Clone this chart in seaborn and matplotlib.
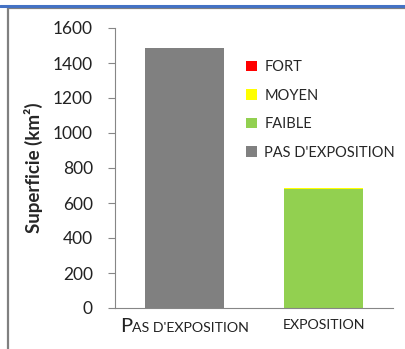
import matplotlib
matplotlib.use("Agg")
import matplotlib.pyplot as plt
import seaborn as sns
from matplotlib.patches import Patch
from matplotlib.lines import Line2D
from matplotlib.offsetbox import TextArea, HPacker, AnnotationBbox

categories = ["PAS D'EXPOSITION", "EXPOSITION"]
pas_exposition = [1486, 0]
faible = [0, 680]
moyen = [0, 6]
fort = [0, 1]

colors = {"FORT": "#FF0000", "MOYEN": "#FFFF00", "FAIBLE": "#92D050",
          "PAS D'EXPOSITION": "#808080"}

sns.set_style("white")
plt.rcParams["font.family"] = ["Lato", "DejaVu Sans"]

fig = plt.figure(figsize=(4.06, 3.49), dpi=100)
ax = fig.add_axes([115 / 406, 1 - 308 / 349, 278 / 406, 280 / 349])

bottom = [0, 0]
for name, vals in [("PAS D'EXPOSITION", pas_exposition), ("FAIBLE", faible),
                   ("MOYEN", moyen), ("FORT", fort)]:
    sns.barplot(x=categories, y=vals, bottom=bottom, color=colors[name],
                width=0.57, saturation=1, ax=ax, linewidth=0)
    bottom = [b + v for b, v in zip(bottom, vals)]

ax.set_xlim(-0.5, 1.5)
ax.set_ylim(0, 1600)
ax.set_yticks(range(0, 1601, 200))
ax.tick_params(axis="y", labelsize=12.5, length=5, width=0.8, color="#868686",
               pad=11, left=True, labelcolor="#222222")
ax.tick_params(axis="x", length=0, pad=8, labelsize=10.2, labelcolor="#222222")
ax.set_xticks([0, 1])
ax.set_xticklabels(["", "EXPOSITION"])

# small-caps style first category label
lbl = HPacker(children=[TextArea("P", textprops=dict(size=14.5, color="#222222")),
                        TextArea("AS D'EXPOSITION", textprops=dict(size=10.2, color="#222222"))],
              align="baseline", pad=0, sep=0)
ab = AnnotationBbox(lbl, (0, 0), xycoords=("data", "axes fraction"),
                    xybox=(0, -7), boxcoords="offset points",
                    box_alignment=(0.5, 1), frameon=False)
ax.add_artist(ab)

for s in ["top", "right"]:
    ax.spines[s].set_visible(False)
for s in ["left", "bottom"]:
    ax.spines[s].set_color("#868686")
    ax.spines[s].set_linewidth(0.8)

ax.set_ylabel("Superficie (km²)", fontsize=13.5, fontweight="bold", labelpad=7)

handles = [Patch(facecolor=colors[k], edgecolor="none", label=k)
           for k in ["FORT", "MOYEN", "FAIBLE", "PAS D'EXPOSITION"]]
fig.legend(handles=handles, loc="upper left", bbox_to_anchor=(246 / 406, 1 - 60 / 349),
           frameon=False, fontsize=10.5, handlelength=0.75, handleheight=0.75,
           handletextpad=0.5, labelspacing=1.0, borderaxespad=0, borderpad=0)

# screenshot frame
fig.add_artist(Line2D([8 / 406, 1], [1 - 8 / 349] * 2, color="#808080", lw=1.6,
                      transform=fig.transFigure))
fig.add_artist(Line2D([8 / 406] * 2, [0, 1 - 7 / 349], color="#808080", lw=1.6,
                      transform=fig.transFigure))
fig.add_artist(Line2D([0, 1], [1 - 5.5 / 349] * 2, color="#4472C4", lw=2.2,
                      transform=fig.transFigure))

fig.savefig("out.png", dpi=100)
